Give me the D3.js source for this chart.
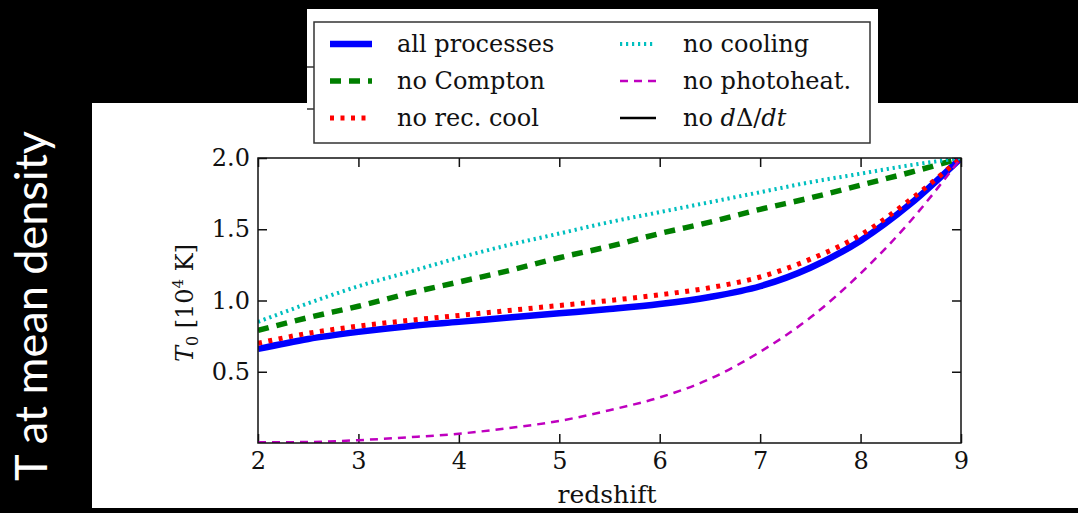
<!DOCTYPE html>
<html><head><meta charset="utf-8">
<script src="https://cdn.jsdelivr.net/npm/d3@7"></script>
<style>html,body{margin:0;padding:0;background:#000;}svg{display:block;}</style>
</head><body>
<svg id="c" width="1078" height="513"></svg>
<script>
const redshift = [2,2.5,3,3.5,4,4.5,5,5.5,6,6.5,7,7.5,8,8.5,9];
const allProcesses = [0.66,0.73,0.78,0.82,0.85,0.88,0.91,0.94,0.975,1.025,1.10,1.23,1.42,1.68,2.0];
const noCompton    = [0.79,0.88,0.96,1.05,1.13,1.21,1.30,1.38,1.47,1.55,1.64,1.72,1.81,1.90,2.0];
const noRecCool    = [0.70,0.77,0.82,0.86,0.895,0.93,0.965,1.0,1.04,1.09,1.165,1.29,1.46,1.71,2.0];
const noCooling    = [0.85,0.98,1.10,1.20,1.30,1.39,1.47,1.55,1.62,1.69,1.76,1.83,1.89,1.95,2.0];
const noPhotoheat  = [0.005,0.007,0.02,0.04,0.065,0.105,0.155,0.23,0.32,0.45,0.64,0.88,1.19,1.56,2.0];
const xTicks = [2,3,4,5,6,7,8,9];
const yTicks = [0.5,1.0,1.5,2.0];
const seriesNames = ["all processes","no Compton","no rec. cool","no cooling","no photoheat.","no dΔ/dt"];

const svg = d3.select("#c");
// backgrounds
svg.append("rect").attr("x",0).attr("y",0).attr("width",1078).attr("height",513).attr("fill","#000");
svg.append("rect").attr("x",92).attr("y",103).attr("width",986).attr("height",405).attr("fill","#fff");
svg.append("rect").attr("x",307).attr("y",9).attr("width",571).attr("height",95).attr("fill","#fff");

// side title
svg.append("text").attr("transform","translate(47,306) rotate(-90)")
  .attr("text-anchor","middle").attr("fill","#fff")
  .style("font-family","Lato, 'Open Sans', sans-serif").style("font-size","45px")
  .text("T at mean density");

const x = d3.scaleLinear().domain([2,9]).range([258,961]);
const y = d3.scaleLinear().domain([0,2]).range([443,158]);

const tickFont = g => g.selectAll("text").style("font-family","'DejaVu Serif', serif").style("font-size","24px").attr("fill","#111");

// axes
const gx = svg.append("g").attr("transform","translate(0,443)")
  .call(d3.axisBottom(x).tickValues(xTicks).tickSize(-9).tickSizeOuter(0).tickPadding(9).tickFormat(d3.format("d")));
gx.call(tickFont);
const gy = svg.append("g").attr("transform","translate(258,0)")
  .call(d3.axisLeft(y).tickValues(yTicks).tickSize(-9).tickSizeOuter(0).tickPadding(8).tickFormat(d3.format(".1f")));
gy.call(tickFont);
const gt = svg.append("g").attr("transform","translate(0,158)")
  .call(d3.axisTop(x).tickValues(xTicks).tickSize(-9).tickSizeOuter(0).tickFormat(""));
const gr = svg.append("g").attr("transform","translate(961,0)")
  .call(d3.axisRight(y).tickValues(yTicks).tickSize(-9).tickSizeOuter(0).tickFormat(""));
[gx,gy,gt,gr].forEach(g=>{g.select(".domain").remove(); g.selectAll("line").attr("stroke","#111").attr("stroke-width",1.5);});

// clip
svg.append("clipPath").attr("id","clip").append("rect").attr("x",258).attr("y",158).attr("width",703).attr("height",285);

const line = d3.line().x((d,i)=>x(redshift[i])).y(d=>y(d)).curve(d3.curveMonotoneX);
const styles = [
  {data:allProcesses, color:"#0000ff", w:6.5, dash:null},
  {data:noCompton, color:"#007f00", w:5.5, dash:"11,8"},
  {data:noRecCool, color:"#ff0000", w:5, dash:"4,6.5"},
  {data:noCooling, color:"#00bfbf", w:4, dash:"2.2,3.8"},
  {data:noPhotoheat, color:"#bf00bf", w:2.5, dash:"8,6"},
  {data:null, color:"#000000", w:2.5, dash:null}
];
const plot = svg.append("g").attr("clip-path","url(#clip)");
styles.forEach(s=>{
  if(!s.data) return;
  plot.append("path").attr("d",line(s.data)).attr("fill","none")
    .attr("stroke",s.color).attr("stroke-width",s.w)
    .attr("stroke-dasharray",s.dash);
});

// frame
svg.append("rect").attr("x",258).attr("y",158).attr("width",703).attr("height",285)
  .attr("fill","none").attr("stroke","#111").attr("stroke-width",1.5);

// x label
svg.append("text").attr("x",607).attr("y",503).attr("text-anchor","middle")
  .style("font-family","'DejaVu Serif', serif").style("font-size","25px").attr("fill","#111").text("redshift");
// y label
const yl = svg.append("text").attr("transform","translate(193,303) rotate(-90)").attr("text-anchor","middle")
  .style("font-family","'DejaVu Serif', serif").style("font-size","24px").attr("fill","#111");
yl.append("tspan").style("font-style","italic").text("T");
yl.append("tspan").attr("dy",5).style("font-size","16px").text("0");
yl.append("tspan").attr("dy",-5).text(" [10");
yl.append("tspan").attr("dy",-10).style("font-size","15px").text("4");
yl.append("tspan").attr("dy",10).text(" K]");

// stray ticks of upper panel
svg.append("line").attr("x1",307).attr("x2",314).attr("y1",67).attr("y2",67).attr("stroke","#333").attr("stroke-width",1.5);
svg.append("line").attr("x1",307).attr("x2",314).attr("y1",109).attr("y2",109).attr("stroke","#333").attr("stroke-width",1.5);

// legend
const lg = svg.append("g");
lg.append("rect").attr("x",314).attr("y",22).attr("width",556).attr("height",121)
  .attr("fill","#fff").attr("stroke","#333").attr("stroke-width",1.5);
const rowsY = [44,81,118];
styles.forEach((s,i)=>{
  const col = Math.floor(i/3), row = i%3;
  const hx = col===0 ? 330 : 620, hw = col===0 ? 42 : 36;
  const tx = col===0 ? 397 : 683;
  lg.append("line").attr("x1",hx).attr("x2",hx+hw).attr("y1",rowsY[row]).attr("y2",rowsY[row])
    .attr("stroke",s.color).attr("stroke-width",s.w).attr("stroke-dasharray",s.dash);
  const t = lg.append("text").attr("x",tx).attr("y",rowsY[row]+8)
    .style("font-family","'DejaVu Serif', serif").style("font-size","24px").attr("fill","#111");
  if(i===5){
    t.append("tspan").text("no ");
    t.append("tspan").style("font-style","italic").text("d");
    t.append("tspan").text("Δ/");
    t.append("tspan").style("font-style","italic").text("dt");
  } else t.text(seriesNames[i]);
});
</script>
</body></html>
